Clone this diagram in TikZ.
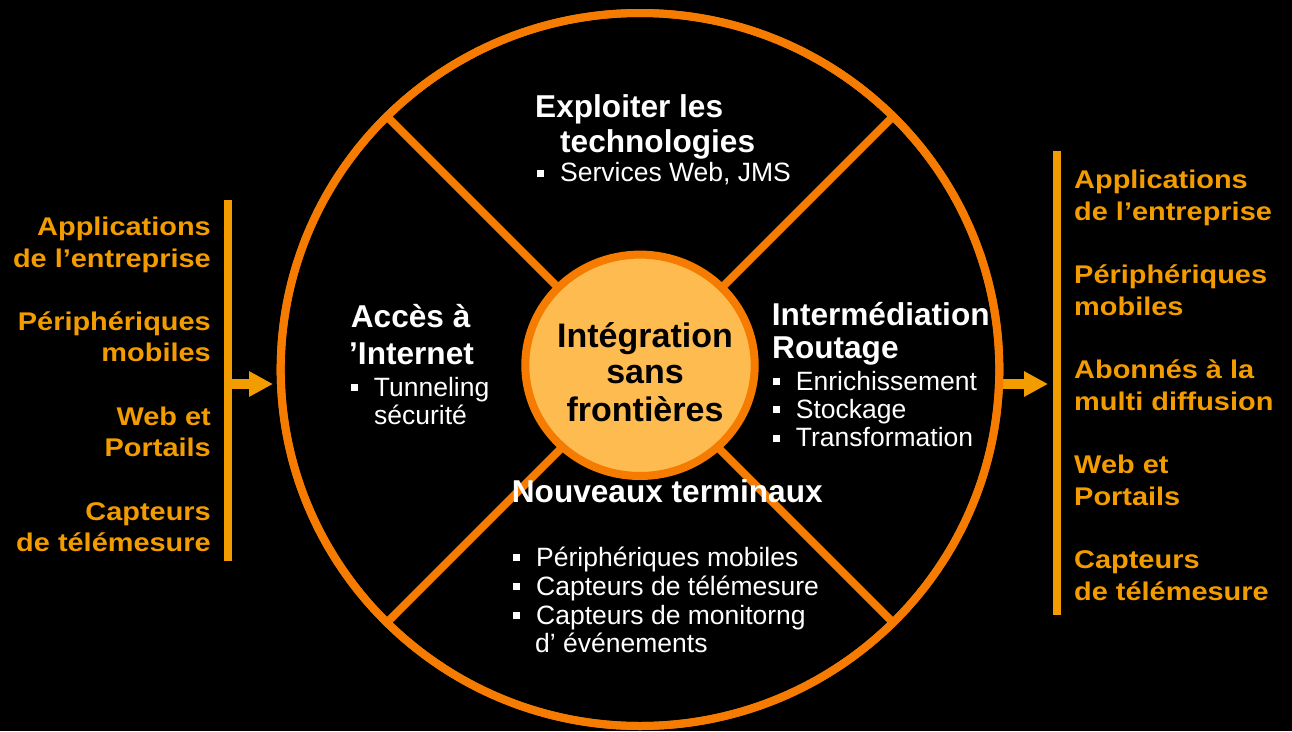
\documentclass[tikz,border=0pt]{standalone}
\usepackage{fontspec}
\setmainfont{Liberation Sans}
\newfontfamily\sidefont{Liberation Sans}[FakeStretch=1.13]
\usetikzlibrary{arrows.meta,shapes.geometric}
\definecolor{ringor}{RGB}{245,124,0}
\definecolor{sideor}{RGB}{243,156,0}
\definecolor{innerfill}{RGB}{254,187,80}
\newcommand\sqbul{\makebox[23pt][l]{\rule[5pt]{7pt}{7pt}}}
\begin{document}
\begin{tikzpicture}[x=1pt,y=-1pt,
  ring/.style={draw=ringor,line width=8pt},
  title/.style={font=\fontsize{31.6}{36}\selectfont\bfseries,text=white,inner sep=0pt,anchor=base west},
  body/.style={font=\fontsize{26.5}{30}\selectfont,text=white,inner sep=0pt,anchor=base west},
  side/.style={font=\sidefont\fontsize{25.6}{30}\selectfont\bfseries,text=sideor,inner sep=0pt},
  ctr/.style={font=\fontsize{34}{38}\selectfont\bfseries,text=black,inner sep=0pt,anchor=base},
  bar/.style={fill=sideor,inner sep=0pt,outer sep=0pt,minimum width=8pt},
  arr/.style={draw=sideor,line width=9.5pt,-{Triangle[length=24pt,width=24pt]}}]
\fill[black] (0,0) rectangle (1292,731);
\useasboundingbox (0,0) rectangle (1292,731);

% side bars
\node[bar,minimum height=361pt,anchor=north west] (lbar) at (224,200) {};
\node[bar,minimum height=464pt,anchor=north west] (rbar) at (1053,151) {};

% outer ring (drawn later over arrow start)
\node[ellipse,ring,minimum width=718.6pt,minimum height=713pt,inner sep=0pt,outer sep=0pt] (outer) at (640,369.5) {};

% arrows
\coordinate (ay) at (0,384);
\coordinate (ltip) at (273,384);
\coordinate (rtip) at (1048,384);
\draw[arr] (lbar.east |- ay) -- (ltip);
\draw[arr] (outer.east |- ay) -- (rtip);

% redraw ring on top of arrow start
\node[ellipse,ring,minimum width=718.6pt,minimum height=713pt,inner sep=0pt,outer sep=0pt] (outerb) at (640,369.5) {};

% diagonals
\foreach \a in {45,135,225,315}
  \draw[ring] (outer.\a) -- (outer.center);

% inner circle
\node[ellipse,draw=ringor,line width=8pt,fill=innerfill,minimum width=229.4pt,minimum height=221.4pt,inner sep=0pt] (inner) at (640,365.3) {};
\node[ctr] (c1) at (645,347) {Intégration};
\node[ctr] (c2) at (645,383) {sans};
\node[ctr] (c3) at (645,421) {frontières};

% top quadrant
\node[title] (t1) at (535,117.3) {Exploiter les};
\node[title] (t2) at (560,152.7) {technologies};
\node[body] (t3) at (537,181.7) {\sqbul Services Web, JMS};

% left quadrant
\node[title] (a1) at (350.7,327.3) {Accès à};
\node[title] (a2) at (349,364) {’Internet};
\node[body] (a3) at (350.7,396) {\sqbul Tunneling};
\node[body] (a4) at (374,424) {sécurité};

% right quadrant
\node[title] (i1) at (771.7,325) {Intermédiation};
\node[title] (i2) at (772,358.3) {Routage};
\node[body] (i3) at (772.7,390) {\sqbul Enrichissement};
\node[body] (i4) at (772.7,418.3) {\sqbul Stockage};
\node[body] (i5) at (772.7,446.7) {\sqbul Transformation};

% bottom quadrant
\node[title] (n1) at (511.7,502.7) {Nouveaux terminaux};
\node[body] (n2) at (513,566) {\sqbul Périphériques mobiles};
\node[body] (n3) at (513,595) {\sqbul Capteurs de télémesure};
\node[body] (n4) at (513,624.3) {\sqbul Capteurs de monitorng};
\node[body] (n5) at (535,652.7) {d’ événements};

% side texts
\foreach \t/\y [count=\i] in {Applications/235.7, de l’entreprise/267, Périphériques/330, mobiles/361.7, Web et/425, Portails/456.7, Capteurs/520, de télémesure/551.7}
  \node[side,anchor=base east] (L\i) at (211,\y) {\t};
\foreach \t/\y [count=\i] in {Applications/188.3, de l’entreprise/220, Périphériques/283.3, mobiles/315, Abonnés à la/378.3, multi diffusion/410, Web et/473.3, Portails/505, Capteurs/568.3, de télémesure/600}
  \node[side,anchor=base west] (R\i) at (1074,\y) {\t};
\end{tikzpicture}
\end{document}
